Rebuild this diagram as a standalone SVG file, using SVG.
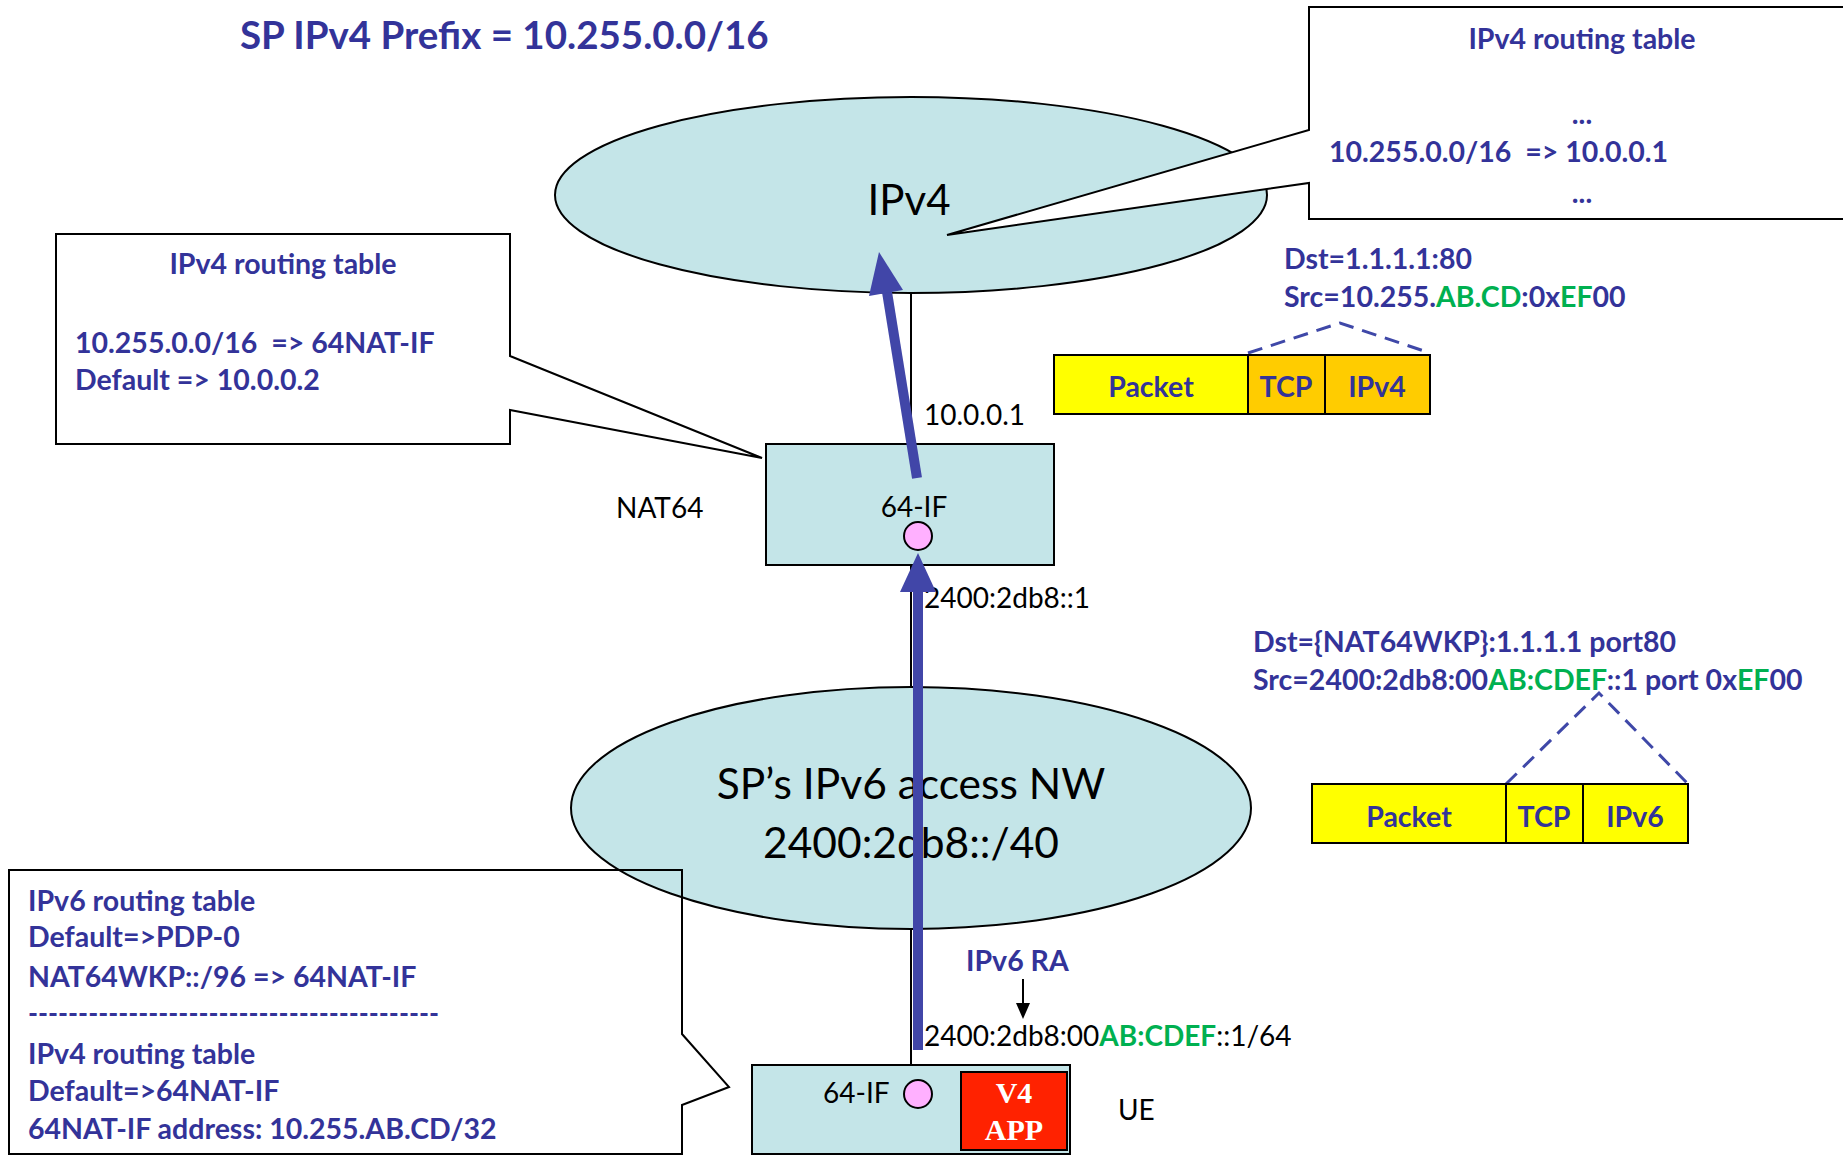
<svg xmlns="http://www.w3.org/2000/svg" width="1843" height="1157" viewBox="0 0 1843 1157">
  <defs>
    <style>
      .t { font-family: Lato, "Liberation Sans", sans-serif; }
      .b { font-weight: bold; fill: #333399; font-size: 28.5px; }
      .k { fill: #000000; }
      .s { font-size: 28px; }
      .g { fill: #00B050; }
      .net { fill: #C4E5E8; stroke: #000; stroke-width: 2; }
      .box { fill: #C4E5E8; stroke: #000; stroke-width: 2; }
      .call { fill: #FFFFFF; stroke: #000; stroke-width: 2; }
      .port { fill: #FFB0FF; stroke: #000; stroke-width: 2; }
      .cell { stroke: #000; stroke-width: 2; }
      .dash { fill: none; stroke: #3F48A8; stroke-width: 3; stroke-dasharray: 15 9; }
      .flow { fill: none; stroke: #4146A8; stroke-width: 10; }
      .flowhead { fill: #4146A8; }
      .wire { stroke: #000; stroke-width: 2; }
      .app { font-family: "Liberation Serif", serif; font-weight: bold; font-size: 30px; fill: #FFFFFF; }
    </style>
  </defs>

  <rect width="1843" height="1157" fill="#FFFFFF"/>

  <!-- heading -->
  <text id="title" class="t" x="240" y="49" font-size="38.5" font-weight="bold" fill="#333399">SP IPv4 Prefix = 10.255.0.0/16</text>

  <!-- thin links between the networks and the boxes -->
  <g id="links">
    <line class="wire" x1="911" y1="294" x2="911" y2="444"/>
    <line class="wire" x1="911" y1="565" x2="911" y2="1065"/>
  </g>

  <!-- IPv4 network cloud -->
  <g id="ipv4-net">
    <ellipse class="net" cx="911" cy="195" rx="356" ry="98"/>
    <text class="t k" x="909" y="215" font-size="42" text-anchor="middle">IPv4</text>
  </g>

  <!-- IPv6 access network cloud -->
  <g id="ipv6-net">
    <ellipse class="net" cx="911" cy="808" rx="340" ry="121"/>
    <text class="t k" x="911" y="799" font-size="42.5" text-anchor="middle">SP’s IPv6 access NW</text>
    <text class="t k" x="911" y="858" font-size="42.5" text-anchor="middle">2400:2db8::/40</text>
  </g>

  <!-- routing table of the IPv4 core -->
  <g id="callout-core">
    <path class="call" d="M1309,7 H1860 V219 H1309 V183 L947,235 L1309,130 Z"/>
    <text class="t b" x="1582" y="49" text-anchor="middle">IPv4 routing table</text>
    <text class="t b" x="1582" y="124" text-anchor="middle">...</text>
    <text class="t b" x="1329" y="162" xml:space="preserve">10.255.0.0/16  =&gt; 10.0.0.1</text>
    <text class="t b" x="1582" y="203" text-anchor="middle">...</text>
  </g>

  <!-- routing table of the NAT64 -->
  <g id="callout-nat64">
    <path class="call" d="M56,234 H510 V356 L762,458 L510,410 V444 H56 Z"/>
    <text class="t b" x="283" y="274" text-anchor="middle">IPv4 routing table</text>
    <text class="t b" x="75" y="353" xml:space="preserve">10.255.0.0/16  =&gt; 64NAT-IF</text>
    <text class="t b" x="75" y="390">Default =&gt; 10.0.0.2</text>
  </g>

  <!-- routing tables of the UE -->
  <g id="callout-ue">
    <path fill="none" stroke="#000" stroke-width="2" d="M9,870 H682 V1034 L729,1087 L682,1105 V1154 H9 Z"/>
    <text class="t b" x="28" y="911">IPv6 routing table</text>
    <text class="t b" x="28" y="947">Default=&gt;PDP-0</text>
    <text class="t b" x="28" y="987">NAT64WKP::/96 =&gt; 64NAT-IF</text>
    <text class="t b" x="28" y="1023" textLength="411" lengthAdjust="spacingAndGlyphs">-----------------------------------------</text>
    <text class="t b" x="28" y="1064">IPv4 routing table</text>
    <text class="t b" x="28" y="1101">Default=&gt;64NAT-IF</text>
    <text class="t b" x="28" y="1139">64NAT-IF address: 10.255.AB.CD/32</text>
  </g>

  <!-- NAT64 gateway -->
  <g id="nat64">
    <rect class="box" x="766" y="444" width="288" height="121"/>
    <text class="t k s" x="914" y="517" text-anchor="middle">64-IF</text>
    <circle class="port" cx="918" cy="536" r="14"/>
    <text class="t k s" x="616" y="518">NAT64</text>
    <text class="t k s" x="924" y="425">10.0.0.1</text>
    <text class="t k s" x="924" y="608">2400:2db8::1</text>
  </g>

  <!-- user equipment -->
  <g id="ue">
    <rect class="box" x="752" y="1065" width="318" height="89"/>
    <text class="t k s" x="823" y="1103">64-IF</text>
    <circle class="port" cx="918" cy="1094" r="14"/>
    <rect x="961" y="1072" width="106" height="78" fill="#FF2200" stroke="#000" stroke-width="2"/>
    <text class="app" x="1014" y="1103" text-anchor="middle">V4</text>
    <text class="app" x="1014" y="1140" text-anchor="middle">APP</text>
    <text class="t k s" x="1118" y="1120">UE</text>
  </g>

  <!-- router advertisement -->
  <g id="ra">
    <text class="t b" x="966" y="971">IPv6 RA</text>
    <text class="t k s" x="924" y="1046">2400:2db8:00<tspan class="g" font-weight="bold">AB:CDEF</tspan>::1/64</text>
  </g>

  <!-- IPv4 packet after translation -->
  <g id="pkt-ipv4">
    <text class="t b" x="1284" y="269">Dst=1.1.1.1:80</text>
    <text class="t b" x="1284" y="307">Src=10.255.<tspan class="g">AB.CD</tspan>:0x<tspan class="g">EF</tspan>00</text>
    <polyline class="dash" points="1248,353 1340,323 1430,353"/>
    <rect class="cell" x="1054" y="355" width="194" height="59" fill="#FFFF00"/>
    <rect class="cell" x="1248" y="355" width="77" height="59" fill="#FFCC00"/>
    <rect class="cell" x="1325" y="355" width="105" height="59" fill="#FFCC00"/>
    <text class="t b" x="1151" y="397" text-anchor="middle">Packet</text>
    <text class="t b" x="1286" y="397" text-anchor="middle">TCP</text>
    <text class="t b" x="1377" y="397" text-anchor="middle">IPv4</text>
  </g>

  <!-- IPv6 packet from the UE -->
  <g id="pkt-ipv6">
    <text class="t b" x="1253" y="652">Dst={NAT64WKP}:1.1.1.1 port80</text>
    <text class="t b" x="1253" y="690">Src=2400:2db8:00<tspan class="g">AB:CDEF</tspan>::1 port 0x<tspan class="g">EF</tspan>00</text>
    <polyline class="dash" points="1506,784 1599,693 1688,784"/>
    <rect class="cell" x="1312" y="784" width="194" height="59" fill="#FFFF00"/>
    <rect class="cell" x="1506" y="784" width="77" height="59" fill="#FFFF00"/>
    <rect class="cell" x="1583" y="784" width="105" height="59" fill="#FFFF00"/>
    <text class="t b" x="1409" y="827" text-anchor="middle">Packet</text>
    <text class="t b" x="1544" y="827" text-anchor="middle">TCP</text>
    <text class="t b" x="1635" y="827" text-anchor="middle">IPv6</text>
  </g>

  <!-- traffic flow arrows -->
  <g id="connectors">
    <line class="flow" x1="918" y1="1050" x2="918" y2="588"/>
    <polygon class="flowhead" points="918,553 900,592 936,592"/>
    <line class="flow" x1="917" y1="478" x2="887" y2="292"/>
    <polygon class="flowhead" points="879,252 903,290 869,296"/>
    <line stroke="#000" stroke-width="2" x1="1023" y1="979" x2="1023" y2="1006"/>
    <polygon fill="#000" points="1023,1019 1016,1003 1030,1003"/>
  </g>
</svg>
